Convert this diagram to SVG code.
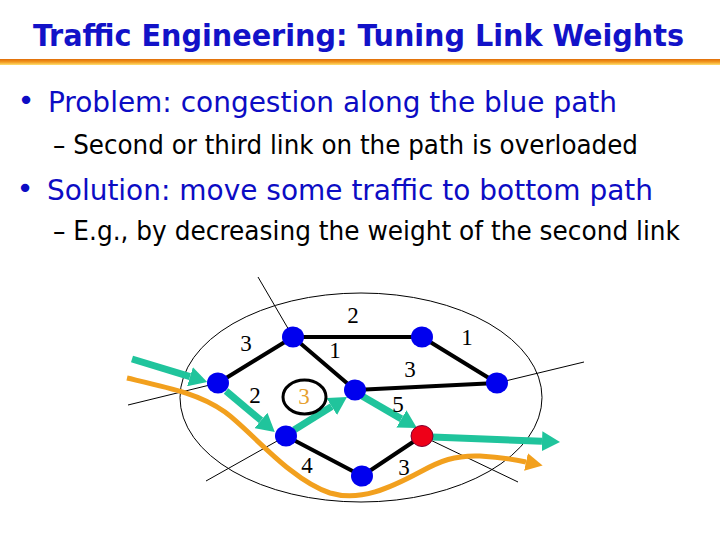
<svg xmlns="http://www.w3.org/2000/svg" width="720" height="540" viewBox="0 0 720 540">
<style>
.title{font-family:"DejaVu Sans Condensed","DejaVu Sans","Liberation Sans",sans-serif;font-stretch:condensed;font-weight:bold;font-size:30px;fill:#1212c8}
.b1{font-family:"DejaVu Sans","Liberation Sans",sans-serif;font-size:29px;fill:#0c0cc4}
.b2{font-family:"DejaVu Sans","Liberation Sans",sans-serif;font-size:26px;fill:#000}
.lbl{font-family:"Liberation Serif","Times New Roman",serif;font-size:23px;fill:#000;text-anchor:middle}
.edge{stroke:#000;stroke-width:4;fill:none;stroke-linecap:round}
.thin{stroke:#000;stroke-width:1;fill:none}
.green{stroke:#20c49c;stroke-width:7;fill:none;marker-end:url(#ga)}
.orange{stroke:#f2a01e;stroke-width:5;fill:none;marker-end:url(#oa)}
.node{fill:#0000ee}
.hot{fill:#ee0018;stroke:#800030;stroke-width:1}
</style>
<defs>
<linearGradient id="rule" x1="0" y1="0" x2="0" y2="1">
<stop offset="0" stop-color="#e06c08"/>
<stop offset="0.5" stop-color="#f29a20"/>
<stop offset="1" stop-color="#ffe070"/>
</linearGradient>
<marker id="ga" markerUnits="userSpaceOnUse" viewBox="0 0 18 20" markerWidth="18" markerHeight="20" refX="0" refY="10" orient="auto">
<path d="M0,0 L18,10 L0,20 z" fill="#20c49c"/>
</marker>
<marker id="oa" markerUnits="userSpaceOnUse" viewBox="0 0 17 18" markerWidth="17" markerHeight="18" refX="0" refY="9" orient="auto">
<path d="M0,0 L17,9 L0,18 z" fill="#f2a01e"/>
</marker>
</defs>
<rect width="720" height="540" fill="#fff"/>
<text class="title" x="33" y="46" textLength="651" lengthAdjust="spacingAndGlyphs">Traffic Engineering: Tuning Link Weights</text>
<rect x="0" y="59" width="720" height="6" fill="url(#rule)"/>
<text class="b1" x="26" y="110" text-anchor="middle" font-size="24">•</text>
<text class="b1" x="48" y="112" textLength="569" lengthAdjust="spacingAndGlyphs">Problem: congestion along the blue path</text>
<text class="b2" x="53" y="154" textLength="585" lengthAdjust="spacingAndGlyphs">– Second or third link on the path is overloaded</text>
<text class="b1" x="25" y="198" text-anchor="middle" font-size="24">•</text>
<text class="b1" x="47" y="200" textLength="606" lengthAdjust="spacingAndGlyphs">Solution: move some traffic to bottom path</text>
<text class="b2" x="53" y="240" textLength="627" lengthAdjust="spacingAndGlyphs">– E.g., by decreasing the weight of the second link</text>

<ellipse id="domain" cx="361" cy="397.5" rx="181" ry="104.5" fill="none" stroke="#000" stroke-width="1"/>

<g id="connectors">
<line class="thin" x1="258" y1="277" x2="293" y2="337"/>
<line class="thin" x1="128" y1="405" x2="218" y2="383"/>
<line class="thin" x1="206" y1="481" x2="286" y2="436"/>
<line class="thin" x1="497" y1="383" x2="584" y2="362"/>
<line class="thin" x1="422" y1="436" x2="518" y2="482"/>
<line class="edge" x1="218" y1="383" x2="293" y2="337"/>
<line class="edge" x1="293" y1="337" x2="422" y2="337"/>
<line class="edge" x1="293" y1="337" x2="355" y2="390"/>
<line class="edge" x1="422" y1="337" x2="497" y2="383"/>
<line class="edge" x1="355" y1="390" x2="497" y2="383"/>
<line class="edge" x1="286" y1="436" x2="362" y2="476"/>
<line class="edge" x1="362" y1="476" x2="422" y2="436"/>
<path class="orange" d="M127,378 C170,388 200,394 225,412 C250,430 290,480 330,493 C360,502 390,488 420,472 C440,461 455,455 480,456 C500,457 512,459 526,462"/>
<line class="green" x1="132" y1="359" x2="190" y2="376.7"/>
<line class="green" x1="226" y1="391" x2="261" y2="420.4"/>
<line class="green" x1="294" y1="430" x2="331.7" y2="406.5"/>
<line class="green" x1="362" y1="396" x2="401.4" y2="418.9"/>
<line class="green" x1="432" y1="437" x2="542" y2="441.3"/>
</g>

<g id="nA"><ellipse class="node" cx="218" cy="383" rx="11" ry="10.5"/></g>
<g id="nB"><ellipse class="node" cx="293" cy="337" rx="11" ry="10.5"/></g>
<g id="nG"><ellipse class="node" cx="422" cy="337" rx="11" ry="10.5"/></g>
<g id="nC"><ellipse class="node" cx="355" cy="390" rx="11" ry="10.5"/></g>
<g id="nH"><ellipse class="node" cx="497" cy="383" rx="11" ry="10.5"/></g>
<g id="nD"><ellipse class="node" cx="286" cy="436" rx="11" ry="10.5"/></g>
<g id="nE"><ellipse class="node" cx="362" cy="476" rx="11" ry="10.5"/></g>
<g id="nF"><ellipse class="hot" cx="422" cy="436" rx="11" ry="10.5"/></g>

<g id="labels">
<text class="lbl" x="353" y="323">2</text>
<text class="lbl" x="246" y="351">3</text>
<text class="lbl" x="335" y="358">1</text>
<text class="lbl" x="467" y="345">1</text>
<text class="lbl" x="410" y="377">3</text>
<text class="lbl" x="255" y="403">2</text>
<text class="lbl" x="398" y="412">5</text>
<text class="lbl" x="307" y="473">4</text>
<text class="lbl" x="404" y="475">3</text>
</g>
<g id="changed">
<ellipse cx="304.5" cy="397" rx="21.5" ry="17" fill="none" stroke="#000" stroke-width="3"/>
<text class="lbl" x="304" y="404" style="fill:#e6a030">3</text>
</g>
</svg>
